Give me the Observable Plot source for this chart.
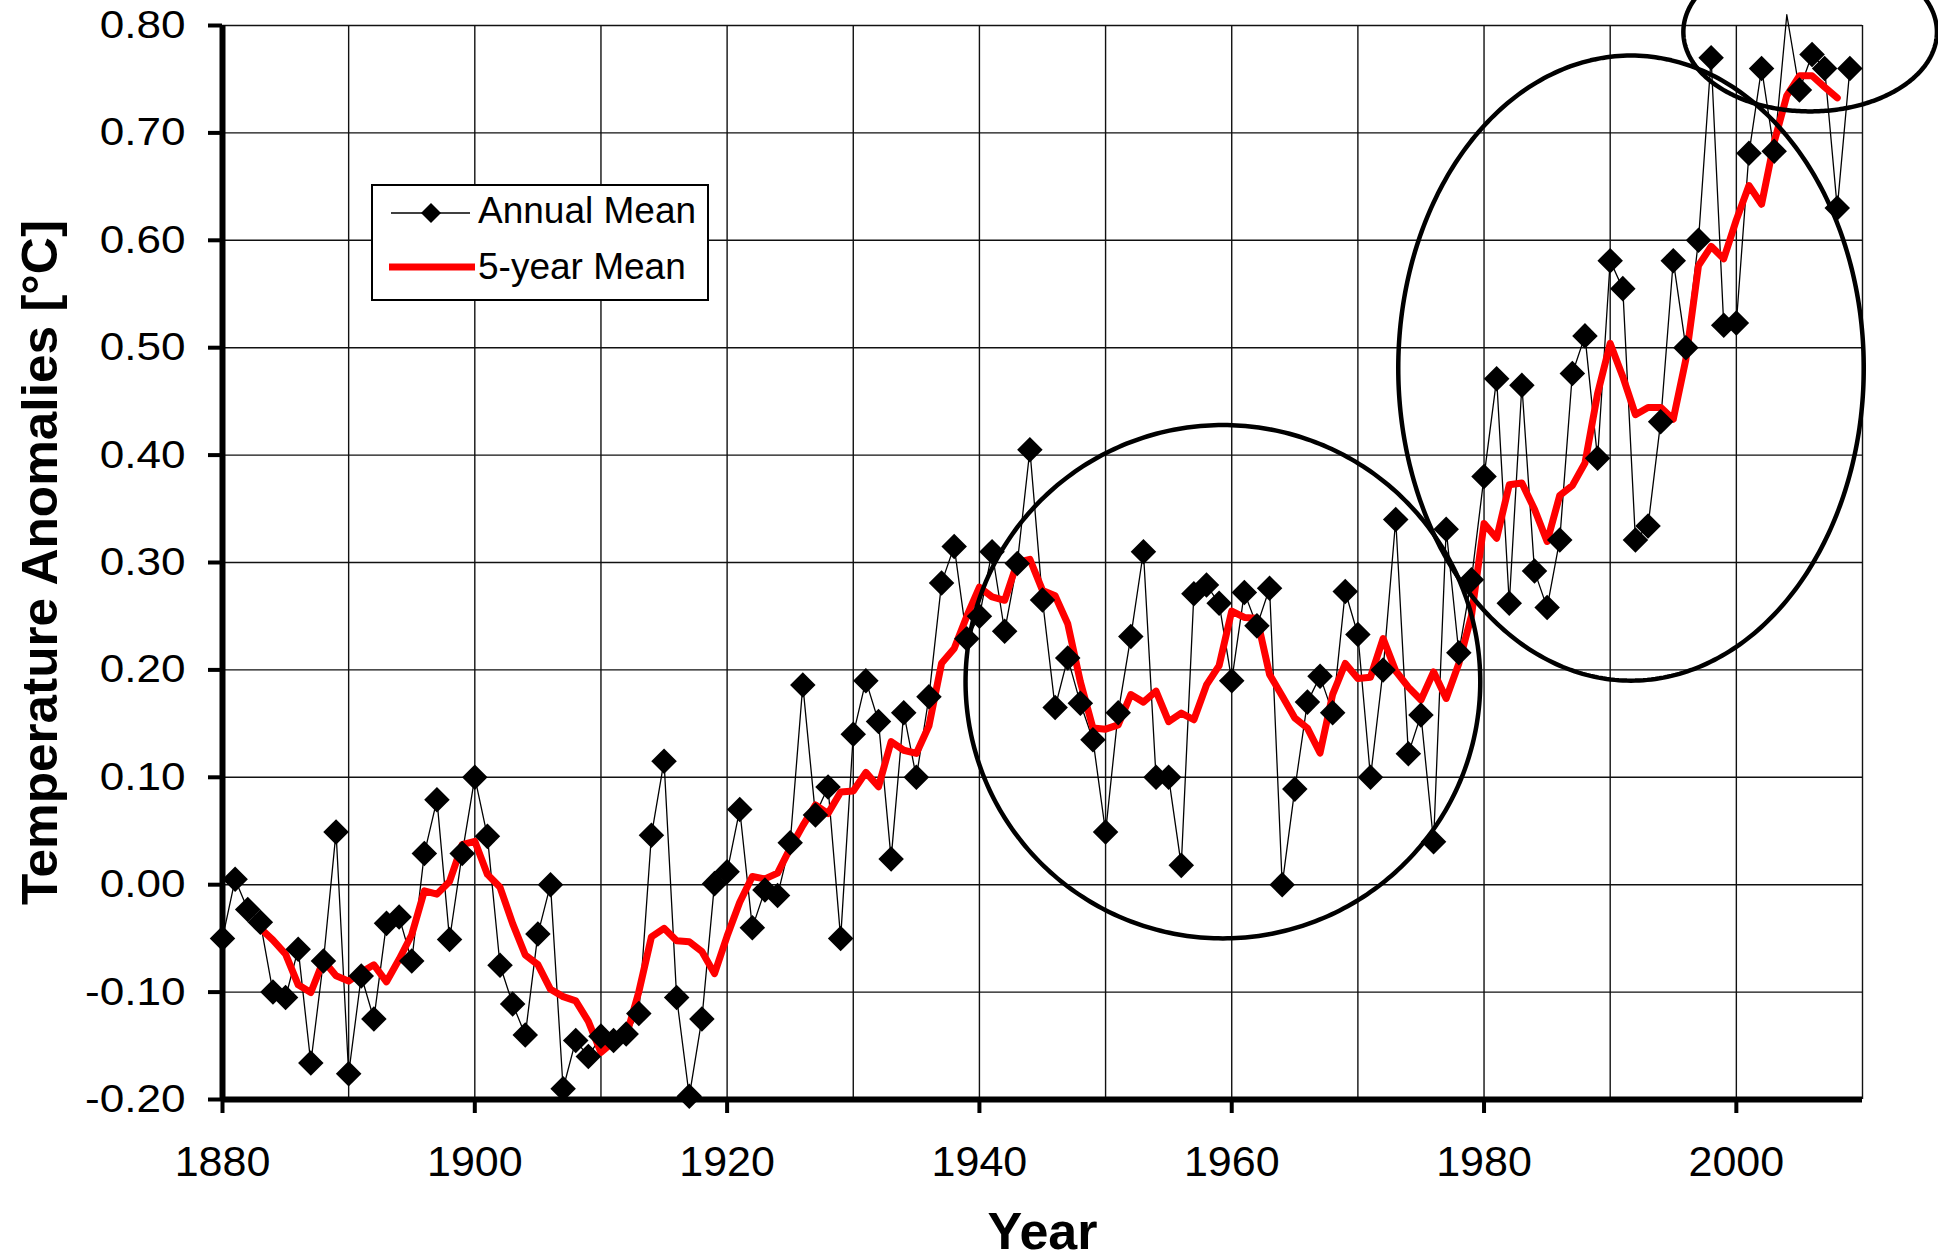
<!DOCTYPE html>
<html>
<head>
<meta charset="utf-8">
<script src="https://cdn.jsdelivr.net/npm/d3@7"></script>
<script src="https://cdn.jsdelivr.net/npm/@observablehq/plot@0.6"></script>
<style>
  html, body { margin: 0; padding: 0; background: #fff; overflow: hidden; }
  #wrap { position: relative; width: 1938px; height: 1258px; }
  #legend { position: absolute; left: 371px; top: 184px; }
</style>
</head>
<body>
<div id="wrap">
  <div id="chart"></div>
  <div id="legend"></div>
</div>
<script>
// ---------- data ----------
const firstYear = 1880;
const annualMean = [
  -0.050, 0.005, -0.023, -0.035, -0.100, -0.105, -0.060, -0.166, -0.071, 0.049,   // 1880s
  -0.176, -0.085, -0.125, -0.036, -0.030, -0.071, 0.029, 0.079, -0.051, 0.029,    // 1890s
  0.100, 0.045, -0.075, -0.111, -0.140, -0.046, 0.000, -0.190, -0.145, -0.160,    // 1900s
  -0.141, -0.145, -0.139, -0.120, 0.046, 0.115, -0.105, -0.197, -0.125, 0.001,    // 1910s
  0.012, 0.070, -0.040, -0.005, -0.010, 0.039, 0.186, 0.065, 0.091, -0.050,       // 1920s
  0.140, 0.190, 0.152, 0.024, 0.160, 0.100, 0.175, 0.281, 0.315, 0.229,           // 1930s
  0.250, 0.310, 0.236, 0.299, 0.405, 0.265, 0.165, 0.211, 0.169, 0.135,           // 1940s
  0.049, 0.160, 0.231, 0.310, 0.100, 0.100, 0.018, 0.271, 0.279, 0.262,           // 1950s
  0.190, 0.272, 0.241, 0.276, 0.000, 0.089, 0.170, 0.194, 0.160, 0.273,           // 1960s
  0.233, 0.100, 0.200, 0.340, 0.122, 0.158, 0.040, 0.331, 0.216, 0.284,           // 1970s
  0.380, 0.471, 0.262, 0.465, 0.292, 0.258, 0.321, 0.476, 0.511, 0.397,           // 1980s
  0.581, 0.555, 0.321, 0.334, 0.431, 0.581, 0.500, 0.600, 0.770, 0.521,           // 1990s
  0.523, 0.681, 0.760, 0.683, 0.810, 0.740, 0.773, 0.760, 0.630, 0.760            // 2000s
];
const meanWindow = 5;               // "5-year Mean"
const xDomain = [1880, 2010];
const yDomain = [-0.2, 0.8];
const xLabelYears = [1880, 1900, 1920, 1940, 1960, 1980, 2000];
const xGridYears = [1880, 1890, 1900, 1910, 1920, 1930, 1940, 1950, 1960, 1970, 1980, 1990, 2000, 2010];
const yTicks = [-0.2, -0.1, 0.0, 0.1, 0.2, 0.3, 0.4, 0.5, 0.6, 0.7, 0.8];
const seriesNames = ["Annual Mean", "5-year Mean"];
const yTitle = "Temperature Anomalies [°C]";
const xTitle = "Year";
// hand-drawn ellipse annotations (centre year / value, radii in years / °C)
const ellipseCenterYear  = [1959.3, 1991.65, 2005.85];
const ellipseCenterValue = [0.189, 0.481, 0.794];
const ellipseRadiusYears = [20.4, 18.45, 10.05];
const ellipseRadiusValue = [0.239, 0.291, 0.074];

// ---------- tables ----------
const annual = annualMean.map((v, i) => ({year: firstYear + i, value: v}));
const ellipses = ellipseCenterYear.flatMap((cx, k) =>
  d3.range(0, 361, 1).map(a => ({
    id: k,
    x: cx + ellipseRadiusYears[k] * Math.cos(a * Math.PI / 180),
    y: ellipseCenterValue[k] + ellipseRadiusValue[k] * Math.sin(a * Math.PI / 180)
  })));

const font = "'Liberation Sans', Arial, sans-serif";

const chart = Plot.plot({
  width: 1938,
  height: 1258,
  marginLeft: 222,
  marginRight: 76,
  marginTop: 25,
  marginBottom: 159,
  style: {fontFamily: font, background: "white", color: "black", overflow: "visible"},
  x: {domain: xDomain},
  y: {domain: yDomain},
  marks: [
    Plot.gridX(xGridYears, {stroke: "#111", strokeOpacity: 1, strokeWidth: 1.4}),
    Plot.gridY(yTicks, {stroke: "#111", strokeOpacity: 1, strokeWidth: 1.4}),
    Plot.axisY({ticks: yTicks, tickFormat: d => d.toFixed(2), tickSize: 14, tickPadding: 23,
                fontSize: 39, label: null, strokeWidth: 4}),
    Plot.axisX({ticks: xLabelYears, tickFormat: d => String(d), tickSize: 14, tickPadding: 32,
                fontSize: 43, label: null, strokeWidth: 4}),
    Plot.ruleX([xDomain[0]], {stroke: "black", strokeWidth: 6}),
    Plot.ruleY([yDomain[0]], {stroke: "black", strokeWidth: 6}),
    // Annual mean: thin black line
    Plot.line(annual, {x: "year", y: "value", stroke: "black", strokeWidth: 1.3}),
    // 5-year mean (the reference draws each 5-year window at its 4th year)
    Plot.line(annual, Plot.windowY(
      {k: meanWindow, anchor: "end", reduce: "mean", strict: true},
      {x: d => d.year - 1, y: "value", stroke: "#ff0000", strokeWidth: 7, strokeLinejoin: "round"})),
    // diamond markers (values above the axis maximum are not marked, as in the reference)
    Plot.dot(annual.filter(d => d.value <= yDomain[1]), {
      x: "year", y: "value", symbol: "diamond2", r: 11.5, fill: "black", stroke: "none"}),
    // ellipse annotations
    Plot.line(ellipses, {x: "x", y: "y", z: "id", stroke: "black", strokeWidth: 4.5, curve: "linear"}),
    // axis titles
    Plot.text([yTitle], {text: d => d, frameAnchor: "left", textAnchor: "middle", lineAnchor: "middle",
                         rotate: -90, dx: -182, fontSize: 50, fontWeight: "bold", fill: "black"}),
    Plot.text([xTitle], {text: d => d, frameAnchor: "bottom", textAnchor: "middle", lineAnchor: "middle",
                         dy: 133, fontSize: 52, fontWeight: "bold", fill: "black"})
  ]
});
document.getElementById("chart").appendChild(chart);

// the reference's y tick labels are slightly wider than plain Arial
d3.select(chart).selectAll("g[aria-label='y-axis tick label'] text").each(function() {
  const w = this.getComputedTextLength();
  this.setAttribute("textLength", (w * 1.13).toFixed(1));
  this.setAttribute("lengthAdjust", "spacingAndGlyphs");
});
// the reference's y title is set in a condensed bold face: fit it to its span
d3.select(chart).selectAll("text").filter(function() { return this.textContent === yTitle; })
  .attr("textLength", 685).attr("lengthAdjust", "spacingAndGlyphs");

// ---------- legend box ----------
const lg = d3.select("#legend").append("svg")
  .attr("width", 340).attr("height", 119)
  .style("font-family", font);
lg.append("rect").attr("x", 1).attr("y", 1).attr("width", 336).attr("height", 115)
  .attr("fill", "white").attr("stroke", "black").attr("stroke-width", 2);
lg.append("line").attr("x1", 20).attr("x2", 99).attr("y1", 29).attr("y2", 29)
  .attr("stroke", "black").attr("stroke-width", 1.3);
lg.append("path").attr("d", d3.symbol(d3.symbolDiamond2, Math.PI * 9 * 9)())
  .attr("transform", "translate(60,29)").attr("fill", "black");
lg.append("line").attr("x1", 18).attr("x2", 104).attr("y1", 83).attr("y2", 83)
  .attr("stroke", "#ff0000").attr("stroke-width", 7);
lg.selectAll("text.lab").data(seriesNames).join("text")
  .attr("class", "lab")
  .attr("x", 107).attr("y", (d, i) => i === 0 ? 39 : 95)
  .attr("font-size", 37).attr("fill", "black")
  .text(d => d);
</script>
</body>
</html>
